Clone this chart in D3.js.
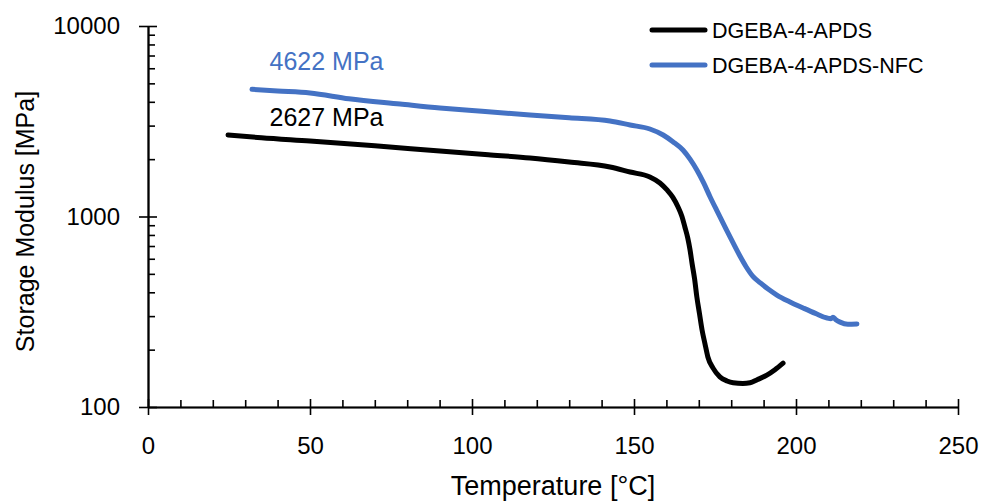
<!DOCTYPE html>
<html>
<head>
<meta charset="utf-8">
<script src="https://cdn.jsdelivr.net/npm/d3@7"></script>
<style>
  html, body { margin: 0; padding: 0; background: #fff; }
  svg { display: block; }
  text { font-family: "Liberation Sans", Arial, sans-serif; }
</style>
</head>
<body>
<svg id="chart" width="984" height="501"></svg>
<script>
// ---- data ----
const seriesNames = ["DGEBA-4-APDS", "DGEBA-4-APDS-NFC"];
const seriesColors = ["#000000", "#4472C4"];

const apdsTemp = [24.7, 35, 50, 70, 90.1, 105, 117.9, 130, 142.6, 148.8, 154.9, 158, 160.2, 162, 163.6, 164.8, 165.7, 166.6, 167.3, 167.9, 168.7, 169.4, 170.2, 171.0, 171.9, 172.8, 174.4, 176.5, 178.7, 180.6, 183.6, 185.8, 188, 191.0, 193.5, 196.0];
const apdsModulus = [2680, 2590, 2490, 2350, 2207, 2110, 2028, 1930, 1819, 1712, 1612, 1500, 1378, 1260, 1122, 1000, 881, 770, 667, 570, 470, 378, 310, 254, 215, 183, 160, 144, 137, 134, 133, 134, 139, 147, 157, 170];

const nfcTemp = [32.1, 40, 50, 62, 77.8, 90.1, 100, 117.9, 130, 142.6, 148.8, 154.9, 159.0, 162, 165.1, 167.3, 169.4, 171.5, 173.5, 175.5, 177.5, 180, 182.7, 184.6, 186.7, 189, 191.5, 194.1, 198, 202.2, 206, 209.6, 210.8, 211.4, 212.2, 213.6, 216, 218.8];
const nfcModulus = [4650, 4560, 4449, 4150, 3895, 3712, 3600, 3411, 3300, 3172, 3022, 2879, 2678, 2470, 2234, 2000, 1754, 1500, 1266, 1080, 924, 760, 620, 545, 485, 448, 415, 387, 357, 331, 310, 293, 291, 296, 288, 279, 272, 273];

const xTicks = [0, 50, 100, 150, 200, 250];
const xMinorTicks = [10, 20, 30, 40, 60, 70, 80, 90, 110, 120, 130, 140, 160, 170, 180, 190, 210, 220, 230, 240];
const yTicks = [100, 1000, 10000];
const yMinorTicks = [200, 300, 400, 500, 600, 700, 800, 900, 2000, 3000, 4000, 5000, 6000, 7000, 8000, 9000];

const annotations = [
  { text: "4622 MPa", temp: 37.5, value: 5900, color: "#4472C4" },
  { text: "2627 MPa", temp: 37.5, value: 3000, color: "#000000" }
];
const xTitle = "Temperature [°C]";
const yTitle = "Storage Modulus [MPa]";

// ---- chart ----
const svg = d3.select("#chart");
const x = d3.scaleLinear().domain([0, 250]).range([148, 958]);
const y = d3.scaleLog().domain([100, 10000]).range([407, 26]);

const tickFont = 24;

// x axis: outer part of major ticks with labels
const gx = svg.append("g").attr("transform", `translate(0,${y(100)})`);
gx.call(d3.axisBottom(x).tickValues(xTicks).tickSize(8).tickSizeOuter(0).tickPadding(22).tickFormat(d3.format("d")));
svg.append("g").attr("transform", `translate(0,${y(100)})`)
  .call(d3.axisBottom(x).tickValues(xTicks).tickSize(-8).tickSizeOuter(0).tickFormat(""));
svg.append("g").attr("transform", `translate(0,${y(100)})`)
  .call(d3.axisBottom(x).tickValues(xMinorTicks).tickSize(-7).tickSizeOuter(0).tickFormat(""));

// y axis
const gy = svg.append("g").attr("transform", `translate(${x(0)},0)`);
gy.call(d3.axisLeft(y).tickValues(yTicks).tickSize(9).tickSizeOuter(0).tickPadding(19).tickFormat(d3.format("d")));
svg.append("g").attr("transform", `translate(${x(0)},0)`)
  .call(d3.axisLeft(y).tickValues(yTicks).tickSize(-9).tickSizeOuter(0).tickFormat(""));
svg.append("g").attr("transform", `translate(${x(0)},0)`)
  .call(d3.axisLeft(y).tickValues(yMinorTicks).tickSize(-7).tickSizeOuter(0).tickFormat(""));

svg.selectAll(".domain").attr("stroke", "#000").attr("stroke-width", 1.6);
svg.selectAll(".tick line").attr("stroke", "#000").attr("stroke-width", 1.6);
svg.selectAll(".tick text")
  .style("font-family", '"Liberation Sans", Arial, sans-serif')
  .style("font-size", tickFont + "px").style("fill", "#000");

// lines
const line = d3.line().x(d => x(d[0])).y(d => y(d[1])).curve(d3.curveMonotoneX);
const seriesData = [
  d3.zip(apdsTemp, apdsModulus),
  d3.zip(nfcTemp, nfcModulus)
];
seriesData.forEach((data, i) => {
  svg.append("path").datum(data)
    .attr("d", line)
    .attr("fill", "none")
    .attr("stroke", seriesColors[i])
    .attr("stroke-width", 5)
    .attr("stroke-linecap", "round")
    .attr("stroke-linejoin", "round");
});

// annotations
annotations.forEach(a => {
  svg.append("text")
    .attr("x", x(a.temp)).attr("y", y(a.value))
    .style("fill", a.color)
    .style("font-size", "25px")
    .text(a.text);
});

// legend
const legendX = 652, legendY = [30, 65];
seriesNames.forEach((name, i) => {
  svg.append("line")
    .attr("x1", legendX).attr("x2", legendX + 53)
    .attr("y1", legendY[i]).attr("y2", legendY[i])
    .attr("stroke", seriesColors[i]).attr("stroke-width", 5)
    .attr("stroke-linecap", "round");
  svg.append("text")
    .attr("x", legendX + 60).attr("y", legendY[i])
    .attr("dy", "0.35em")
    .style("font-size", "21.5px")
    .style("fill", "#000")
    .text(name);
});

// axis titles
svg.append("text")
  .attr("x", 553).attr("y", 495)
  .attr("text-anchor", "middle")
  .style("font-size", "27px")
  .style("fill", "#000")
  .text(xTitle);

svg.append("text")
  .attr("transform", `translate(34,${(y(100) + y(10000)) / 2 + 5}) rotate(-90)`)
  .attr("text-anchor", "middle")
  .style("font-size", "25px")
  .style("fill", "#000")
  .text(yTitle);
</script>
</body>
</html>
